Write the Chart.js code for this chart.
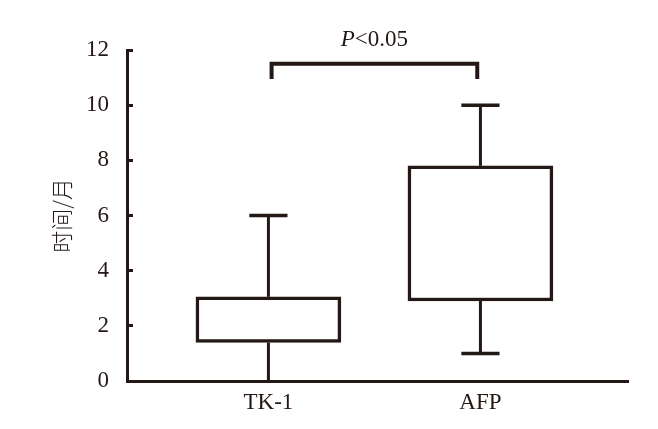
<!DOCTYPE html>
<html>
<head>
<meta charset="utf-8">
<script src="https://cdn.jsdelivr.net/npm/chart.js@4"></script>
<style>
  html, body { margin: 0; padding: 0; background: #fff; }
  #wrap { width: 658px; height: 429px; }
</style>
</head>
<body>
<div id="wrap"><canvas id="chart_div"></canvas></div>
<script>
const ctx = document.getElementById('chart_div');

// data
const categories = ['TK-1', 'AFP'];
const mins = [0, 1];
const q1s = [1.4, 2.9];
const q3s = [3.05, 7.8];
const maxs = [6, 10];
const yTicks = [0, 2, 4, 6, 8, 10, 12];
const sigLabel = ['P', '<0.05'];   // italic P + normal text
const sigPair = [0, 1];
const sigTop = 11.5;
const sigDrop = 10.95;

const INK = '#231815';
const SERIF = "'Liberation Serif', 'Times New Roman', serif";
const capHalf = 0.09;
const bracketInset = 0.015;

const datasets = [];

// boxes as floating bars
datasets.push({
    type: 'bar',
    data: categories.map((c, i) => ({ x: i, y: [q1s[i], q3s[i]] })),
    backgroundColor: '#fff',
    borderColor: INK,
    borderWidth: 3.5,
    borderSkipped: false,
    barThickness: 145,
    order: 1
});

// whiskers and caps
const seg = (pts, w) => ({
    type: 'line',
    data: pts,
    borderColor: INK,
    borderWidth: w,
    pointRadius: 0,
    borderCapStyle: 'butt',
    borderJoinStyle: 'miter',
    fill: false,
    order: 2
});
categories.forEach((c, i) => {
    datasets.push(seg([{ x: i, y: q3s[i] }, { x: i, y: maxs[i] }], 3));
    datasets.push(seg([{ x: i - capHalf, y: maxs[i] }, { x: i + capHalf, y: maxs[i] }], 3.5));
    datasets.push(seg([{ x: i, y: q1s[i] }, { x: i, y: mins[i] }], 3));
    if (mins[i] > 0) {
        datasets.push(seg([{ x: i - capHalf, y: mins[i] }, { x: i + capHalf, y: mins[i] }], 3.5));
    }
});

// significance bracket
datasets.push(seg([
    { x: sigPair[0] + bracketInset, y: sigDrop },
    { x: sigPair[0] + bracketInset, y: sigTop },
    { x: sigPair[1] - bracketInset, y: sigTop },
    { x: sigPair[1] - bracketInset, y: sigDrop }
], 4));

const sigText = {
    id: 'sigText',
    afterDraw(chart) {
        const c = chart.ctx;
        const xs = chart.scales.x, ys = chart.scales.y;
        const cx = xs.getPixelForValue((sigPair[0] + sigPair[1]) / 2);
        const base = ys.getPixelForValue(sigTop) - 18;
        c.save();
        c.fillStyle = INK;
        c.textBaseline = 'alphabetic';
        c.font = 'italic 23px ' + SERIF;
        const w1 = c.measureText(sigLabel[0]).width;
        c.font = '23px ' + SERIF;
        const w2 = c.measureText(sigLabel[1]).width;
        let x = cx - (w1 + w2) / 2;
        c.textAlign = 'left';
        c.font = 'italic 23px ' + SERIF;
        c.fillText(sigLabel[0], x, base);
        c.font = '23px ' + SERIF;
        c.fillText(sigLabel[1], x + w1, base);
        c.restore();
    }
};

new Chart(ctx, {
    type: 'bar',
    data: { datasets: datasets },
    plugins: [sigText],
    options: {
        responsive: true,
        maintainAspectRatio: false,
        animation: false,
        layout: { padding: { top: 50, right: 30, left: 0, bottom: 0 } },
        plugins: {
            legend: { display: false },
            tooltip: { enabled: false }
        },
        scales: {
            x: {
                type: 'linear',
                offset: false,
                min: -0.667,
                max: 1.696,
                afterBuildTicks: (s) => { s.ticks = categories.map((c, i) => ({ value: i })); },
                afterFit: (s) => { s.height = 48; },
                grid: { display: true, offset: false, drawOnChartArea: false, drawTicks: false },
                border: { display: true, width: 3, color: INK },
                ticks: {
                    padding: 8,
                    color: INK,
                    font: { family: SERIF, size: 23 },
                    callback: (v) => categories[v]
                }
            },
            y: {
                min: 0,
                max: 12,
                afterBuildTicks: (s) => { s.ticks = yTicks.map(v => ({ value: v })); },
                afterFit: (s) => { s.width = 127; },
                grid: {
                    drawOnChartArea: false,
                    drawTicks: true,
                    tickLength: -6,
                    tickWidth: 3,
                    tickColor: INK
                },
                border: { display: true, width: 3, color: INK },
                ticks: {
                    padding: 24,
                    color: INK,
                    font: { family: SERIF, size: 23 }
                },
                title: {
                    display: true,
                    text: '时间/月',
                    color: INK,
                    padding: { top: 48, bottom: 0 },
                    font: { family: "'Noto Sans CJK SC', sans-serif", size: 22, weight: 300 }
                }
            }
        }
    }
});
</script>
</body>
</html>
